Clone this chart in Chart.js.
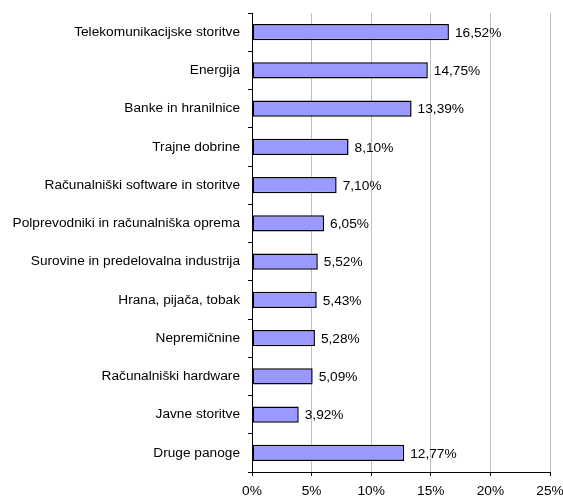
<!DOCTYPE html>
<html>
<head>
<meta charset="utf-8">
<script src="https://cdn.jsdelivr.net/npm/chart.js@4/dist/chart.umd.min.js"></script>
<style>
  html, body { margin: 0; padding: 0; background: #fff; }
  #wrap { width: 563px; height: 497px; position: relative; }
</style>
</head>
<body>
<div id="wrap"><canvas id="chart1"></canvas></div>
<script>
const categories = [
    "Telekomunikacijske storitve",
    "Energija",
    "Banke in hranilnice",
    "Trajne dobrine",
    "Računalniški software in storitve",
    "Polprevodniki in računalniška oprema",
    "Surovine in predelovalna industrija",
    "Hrana, pijača, tobak",
    "Nepremičnine",
    "Računalniški hardware",
    "Javne storitve",
    "Druge panoge"
];
const shares = [16.52, 14.75, 13.39, 8.10, 7.10, 6.05, 5.52, 5.43, 5.28, 5.09, 3.92, 12.77];
const xTicks = [0, 5, 10, 15, 20, 25];

const fmt = v => v.toFixed(2).replace('.', ',') + '%';

// value labels right of each bar
const barLabels = {
    id: 'barLabels',
    afterDatasetsDraw(chart) {
        const ctx = chart.ctx;
        const meta = chart.getDatasetMeta(0);
        ctx.save();
        ctx.font = '13.7px "Liberation Sans", Arial, sans-serif';
        ctx.fillStyle = '#000';
        ctx.textAlign = 'left';
        ctx.textBaseline = 'middle';
        meta.data.forEach((bar, i) => {
            ctx.fillText(fmt(shares[i]), bar.x + 6, bar.y + 1);
        });
        ctx.restore();
    }
};

Chart.defaults.font.family = '"Liberation Sans", Arial, sans-serif';
Chart.defaults.font.size = 13.7;
Chart.defaults.color = '#000';

new Chart("chart1", {
    type: "bar",
    data: {
        labels: categories,
        datasets: [{
            data: shares,
            backgroundColor: '#9999FF',
            borderColor: '#000',
            borderWidth: 1.5,
            borderSkipped: false,
            barPercentage: 0.42,
            categoryPercentage: 1
        }]
    },
    options: {
        indexAxis: 'y',
        responsive: true,
        maintainAspectRatio: false,
        animation: false,
        layout: { padding: { top: 13, right: 13, left: 0, bottom: 0 } },
        plugins: {
            legend: { display: false },
            tooltip: { enabled: false }
        },
        scales: {
            x: {
                min: 0,
                max: 25,
                afterBuildTicks: axis => { axis.ticks = xTicks.map(v => ({ value: v })); },
                afterFit: axis => {
                    axis.height = 25;
                    axis.paddingLeft = 0;
                    axis.paddingRight = 0;
                },
                ticks: {
                    callback: v => v + '%',
                    padding: 7,
                    maxRotation: 0
                },
                grid: {
                    color: '#c0c0c0',
                    tickColor: '#000',
                    tickLength: 4,
                    lineWidth: 1
                },
                border: { color: '#000', width: 1 }
            },
            y: {
                afterFit: axis => {
                    axis.width = 252;
                    axis.paddingTop = 0;
                    axis.paddingBottom = 0;
                },
                ticks: { padding: 8 },
                grid: {
                    offset: true,
                    drawOnChartArea: false,
                    tickColor: '#000',
                    tickLength: 4
                },
                border: { color: '#000', width: 1 }
            }
        }
    },
    plugins: [barLabels]
});
</script>
</body>
</html>
